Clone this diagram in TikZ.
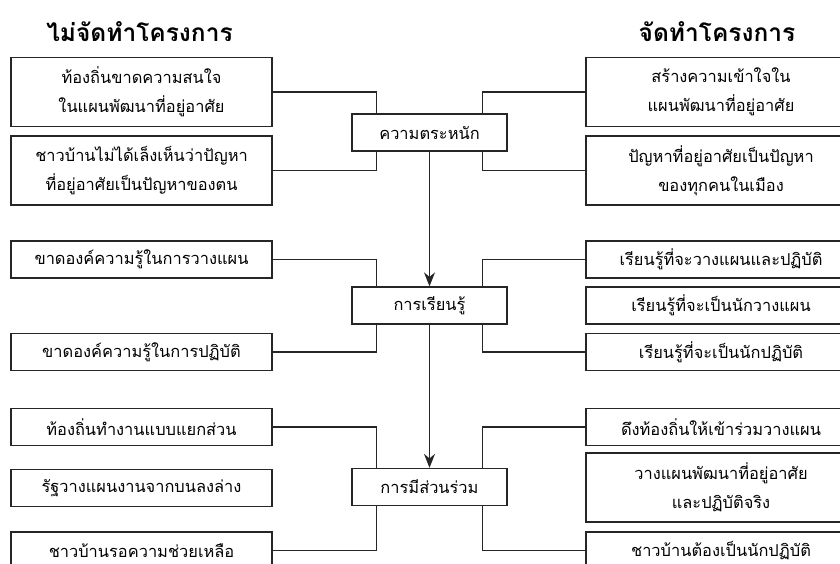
\documentclass[tikz,border=0pt]{standalone}
\usepackage{fontspec}
\newfontfamily\thaifont[Script=Thai]{Loma}
\usetikzlibrary{arrows.meta}
\newcommand{\issue}[4][]{% options, id, position, text
  \node[issue box,#1] (#2) at #3 {#4};
}
\begin{document}
\begin{tikzpicture}[
  x=1pt,y=-1pt,
  every node/.style={font=\thaifont\fontsize{16.4}{29}\selectfont},
  issue box/.style={draw=black!85,line width=1.3pt,align=center,inner sep=2pt,minimum height=37pt},
    left box/.style={minimum width=261pt},
    right box/.style={minimum width=270pt},
    stage box/.style={minimum width=155pt},
    double box/.style={minimum height=69pt},
    title/.style={font=\thaifont\bfseries\fontsize{24.5}{28}\selectfont},
  link/.style={line width=1.2pt,black!85},
  flow/.style={link,-{Stealth[length=14pt,width=11pt]}},
  ]
  \useasboundingbox (0,0) rectangle (840,563);
  \clip (0,0) rectangle (840,563);

  \node[title] (no-project) at (139.5,32) {ไม่จัดทำโครงการ};
  \node[title] (project) at (717,32) {จัดทำโครงการ};

  % stages in the middle
  \issue[stage box]{awareness}{(429.5,132.5)}{ความตระหนัก}
  \issue[stage box]{learning}{(429.5,305.5)}{การเรียนรู้}
  \issue[stage box]{participation}{(429.5,487)}{การมีส่วนร่วม}

  % without the project
  \issue[left box,double box]{no-awareness-1}{(141.5,92)}{ท้องถิ่นขาดความสนใจ\\ในแผนพัฒนาที่อยู่อาศัย}
  \issue[left box,double box]{no-awareness-2}{(141.5,170.5)}{ชาวบ้านไม่ได้เล็งเห็นว่าปัญหา\\ที่อยู่อาศัยเป็นปัญหาของตน}
  \issue[left box]{no-learning-1}{(141.5,259.5)}{ขาดองค์ความรู้ในการวางแผน}
  \issue[left box]{no-learning-2}{(141.5,352)}{ขาดองค์ความรู้ในการปฏิบัติ}
  \issue[left box]{no-participation-1}{(141.5,427)}{ท้องถิ่นทำงานแบบแยกส่วน}
  \issue[left box]{no-participation-2}{(141.5,488)}{รัฐวางแผนงานจากบนลงล่าง}
  \issue[left box]{no-participation-3}{(141.5,550.5)}{ชาวบ้านรอความช่วยเหลือ}

  % with the project
  \issue[right box,double box]{yes-awareness-1}{(721,92)}{สร้างความเข้าใจใน\\แผนพัฒนาที่อยู่อาศัย}
  \issue[right box,double box]{yes-awareness-2}{(721,170.5)}{ปัญหาที่อยู่อาศัยเป็นปัญหา\\ของทุกคนในเมือง}
  \issue[right box]{yes-learning-1}{(721,259.5)}{เรียนรู้ที่จะวางแผนและปฏิบัติ}
  \issue[right box]{yes-learning-2}{(721,305.5)}{เรียนรู้ที่จะเป็นนักวางแผน}
  \issue[right box]{yes-learning-3}{(721,352)}{เรียนรู้ที่จะเป็นนักปฏิบัติ}
  \issue[right box]{yes-participation-1}{(721,427)}{ดึงท้องถิ่นให้เข้าร่วมวางแผน}
  \issue[right box,double box]{yes-participation-2}{(721,487.5)}{วางแผนพัฒนาที่อยู่อาศัย\\และปฏิบัติจริง}
  \issue[right box]{yes-participation-3}{(721,550.5)}{ชาวบ้านต้องเป็นนักปฏิบัติ}

  \draw[link] (no-awareness-1.east) -| ([xshift=25pt]awareness.north west);
  \draw[link] (no-awareness-2.east) -| ([xshift=25pt]awareness.south west);
  \draw[link] (yes-awareness-1.west) -| ([xshift=-25pt]awareness.north east);
  \draw[link] (yes-awareness-2.west) -| ([xshift=-25pt]awareness.south east);

  \draw[link] (no-learning-1.east) -| ([xshift=25pt]learning.north west);
  \draw[link] (no-learning-2.east) -| ([xshift=25pt]learning.south west);
  \draw[link] (yes-learning-1.west) -| ([xshift=-25pt]learning.north east);
  \draw[link] (yes-learning-3.west) -| ([xshift=-25pt]learning.south east);

  \draw[link] (no-participation-1.east) -| ([xshift=25pt]participation.north west);
  \draw[link] (no-participation-3.east) -| ([xshift=25pt]participation.south west);
  \draw[link] (yes-participation-1.west) -| ([xshift=-25pt]participation.north east);
  \draw[link] (yes-participation-3.west) -| ([xshift=-25pt]participation.south east);

  \draw[flow] (awareness) -- (learning);
  \draw[flow] (learning) -- (participation);
\end{tikzpicture}
\end{document}
